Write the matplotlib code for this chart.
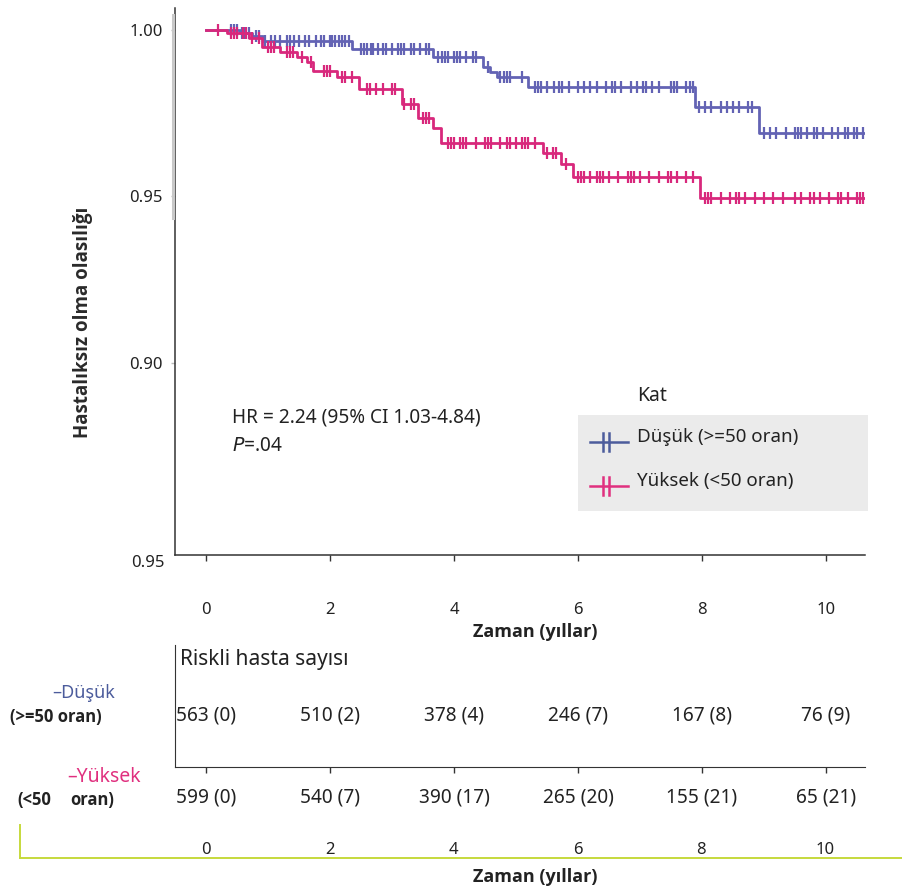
import numpy as np
import matplotlib
matplotlib.use("Agg")
import matplotlib.pyplot as plt
from matplotlib.lines import Line2D
from matplotlib.patches import Rectangle

plt.rcParams['font.family'] = ['Noto Sans', 'DejaVu Sans']
BOLD_FONT = ['Open Sans', 'Lato', 'DejaVu Sans']

# step times (years) and survival after each step
low_times = [0, 0.55, 0.75, 0.92, 2.35, 3.66, 4.47, 4.58, 4.69, 5.19, 7.89, 8.92]
low_surv = [1.0, 0.9990, 0.9982, 0.9967, 0.9943, 0.9919, 0.9889, 0.9874, 0.9859, 0.9829, 0.9769, 0.9692]

high_times = [0, 0.34, 0.70, 0.90, 1.20, 1.47, 1.63, 1.73, 2.11, 2.47, 3.16, 3.42, 3.66, 3.79,
              5.44, 5.73, 5.92, 7.97]
high_surv = [1.0, 0.9991, 0.9976, 0.9949, 0.9934, 0.9919, 0.9904, 0.9877, 0.9859, 0.9823,
             0.9778, 0.9737, 0.9707, 0.9662, 0.9629, 0.9596, 0.9557, 0.9494]

end_time = 10.63

low_censor = [0.4, 0.45, 0.5, 0.58, 0.62, 0.7, 0.8, 0.85, 0.95, 1.05, 1.12, 1.2, 1.3, 1.35, 1.42,
              1.5, 1.6, 1.66, 1.78, 1.85, 1.9, 2.0, 2.04, 2.08, 2.15, 2.2, 2.25, 2.3, 2.5, 2.55,
              2.6, 2.66, 2.7, 2.78, 2.85, 2.9, 3.0, 3.1, 3.15, 3.2, 3.3, 3.35, 3.45, 3.55, 3.6,
              3.75, 3.8, 3.85, 3.9, 4.0, 4.05, 4.1, 4.2, 4.3, 4.35, 4.55, 4.75, 4.8, 4.85, 4.9,
              5.1, 5.3, 5.35, 5.4, 5.5, 5.62, 5.7, 5.75, 5.85, 6.0, 6.1, 6.2, 6.3, 6.45, 6.55,
              6.6, 6.7, 6.85, 6.95, 7.05, 7.1, 7.2, 7.3, 7.5, 7.55, 7.6, 7.75, 7.8, 7.85, 7.95,
              8.05, 8.15, 8.3, 8.4, 8.5, 8.6, 8.75, 8.8, 9.0, 9.1, 9.2, 9.35, 9.5, 9.55, 9.6, 9.7,
              9.8, 9.85, 9.95, 10.1, 10.2, 10.3, 10.35, 10.45, 10.5, 10.6]
high_censor = [0.2, 0.4, 0.45, 0.5, 0.6, 0.65, 0.75, 0.85, 1.0, 1.05, 1.1, 1.3, 1.35, 1.4, 1.55,
               1.7, 1.9, 1.95, 2.0, 2.2, 2.25, 2.35, 2.6, 2.65, 2.75, 2.85, 3.0, 3.05, 3.2, 3.3,
               3.35, 3.5, 3.55, 3.6, 3.9, 3.95, 4.0, 4.1, 4.15, 4.2, 4.35, 4.5, 4.55, 4.6, 4.75,
               4.85, 4.9, 5.0, 5.1, 5.15, 5.2, 5.3, 5.5, 5.6, 5.65, 5.8, 6.0, 6.05, 6.1, 6.2,
               6.3, 6.35, 6.4, 6.5, 6.65, 6.8, 6.85, 6.9, 7.0, 7.15, 7.3, 7.45, 7.5, 7.6, 7.75,
               7.85, 8.05, 8.1, 8.15, 8.3, 8.45, 8.55, 8.6, 8.7, 8.85, 9.0, 9.15, 9.3, 9.5, 9.6,
               9.75, 9.8, 9.9, 10.05, 10.2, 10.25, 10.35, 10.5, 10.55, 10.6]

x_ticks = [0, 2, 4, 6, 8, 10]
y_ticks = [1.00, 0.95, 0.90]
low_risk = ["563 (0)", "510 (2)", "378 (4)", "246 (7)", "167 (8)", "76 (9)"]
high_risk = ["599 (0)", "540 (7)", "390 (17)", "265 (20)", "155 (21)", "65 (21)"]

BLUE = "#6363b4"
PINK = "#d8287c"
BLUE_LEG = "#4c5c9c"
PINK_LEG = "#e0307f"
TXT = "#222222"
W, H = 902, 893


def fx(px):
    return px / W


def fy(py):
    return 1 - py / H


def step_value(times, surv, t):
    idx = np.searchsorted(times, t, side="right") - 1
    return np.array(surv)[idx]


fig = plt.figure(figsize=(9.02, 8.93), dpi=100)

# main KM axes
ax = fig.add_axes([fx(175), fy(555), fx(865) - fx(175), fy(8) - fy(555)])
ax.set_xlim(-0.5, 10.63)
ax.set_ylim(0.8423, 1.0066)

for times, surv, cens, col in [(low_times, low_surv, low_censor, BLUE),
                               (high_times, high_surv, high_censor, PINK)]:
    xs = list(times) + [end_time]
    ys = list(surv) + [surv[-1]]
    ax.step(xs, ys, where="post", color=col, lw=2)
    cy = step_value(times, surv, np.array(cens))
    ax.plot(cens, cy, ls="none", marker="|", ms=8, mew=1.6, color=col)

for s in ["top", "right"]:
    ax.spines[s].set_visible(False)
ax.spines["left"].set_color("#333333")
ax.spines["bottom"].set_color("#333333")
ax.spines["left"].set_linewidth(1.1)
ax.spines["bottom"].set_linewidth(1.1)

ax.set_xticks(x_ticks)
ax.set_xticklabels([str(t) for t in x_ticks], fontsize=12, color=TXT)
ax.tick_params(axis="x", length=4, width=1, color="#333333", pad=30)
ax.set_yticks(y_ticks)
ax.set_yticklabels(["1.00", "0.95", "0.90"], fontsize=12, color=TXT)
ax.tick_params(axis="y", length=3, width=1, color="#bbbbbb", pad=6)

# grey band beside upper part of y axis
fig.add_artist(Line2D([fx(172.5), fx(172.5)], [fy(15), fy(218)], color="#c8c8c8", lw=2.2))

fig.text(fx(165), fy(563), "0.95", ha="right", va="center", fontsize=12, color=TXT)
fig.text(fx(535), fy(632), "Zaman (yıllar)", ha="center", va="center", fontsize=13,
         weight="bold", family=BOLD_FONT, color=TXT)
fig.text(fx(83), fy(322), "Hastalıksız olma olasılığı", rotation=90, ha="center",
         va="center", fontsize=13.5, weight="bold", family=BOLD_FONT, color="#2a2a2a")

# HR annotation
fig.text(fx(232), fy(417), "HR = 2.24 (95% CI 1.03-4.84)", ha="left", va="center",
         fontsize=13.7, color=TXT)
fig.text(fx(232), fy(446), r"$\it{P}$" + "=.04", ha="left", va="center", fontsize=13.7,
         color=TXT)

# legend
fig.add_artist(Rectangle((fx(578), fy(511)), fx(868) - fx(578), fy(415) - fy(511),
                         facecolor="#ebebeb", edgecolor="none"))
fig.text(fx(637), fy(396), "Kat", ha="left", va="center", fontsize=14, color=TXT)
for py, col, lab in [(439, BLUE_LEG, "Düşük (>=50 oran)"), (483, PINK_LEG, "Yüksek (<50 oran)")]:
    fig.add_artist(Line2D([fx(590), fx(628)], [fy(py + 3), fy(py + 3)], color=col, lw=1.8))
    for bx in [603, 609]:
        fig.add_artist(Line2D([fx(bx), fx(bx)], [fy(py - 6), fy(py + 12)], color=col, lw=1.8))
    fig.text(fx(637), fy(py - 2), lab, ha="left", va="center", fontsize=13.5, color=TXT)

# risk table
rax = fig.add_axes([fx(175), fy(767), fx(865) - fx(175), fy(645) - fy(767)])
rax.set_xlim(-0.5, 10.63)
rax.set_ylim(0, 1)
for s in ["top", "right"]:
    rax.spines[s].set_visible(False)
rax.spines["left"].set_color("#333333")
rax.spines["bottom"].set_color("#333333")
rax.set_yticks([])
rax.set_xticks(x_ticks)
rax.set_xticklabels([])
rax.tick_params(axis="x", length=4, width=1, color="#333333")
rax.patch.set_alpha(0)

fig.text(fx(180), fy(660), "Riskli hasta sayısı", ha="left", va="center", fontsize=15,
         color=TXT)
tr_low = matplotlib.transforms.blended_transform_factory(rax.transData, fig.transFigure)
for t, lab in zip(x_ticks, low_risk):
    fig.text(t, fy(715), lab, transform=tr_low, ha="center", va="center", fontsize=13.7,
             color=TXT)
for t, lab in zip(x_ticks, high_risk):
    fig.text(t, fy(797), lab, transform=tr_low, ha="center", va="center", fontsize=13.7,
             color=TXT)

fig.text(fx(115), fy(693), "–Düşük", ha="right", va="center", fontsize=13, color=BLUE_LEG)
fig.text(fx(10), fy(717), "(>=50 oran)", ha="left", va="center", fontsize=12,
         weight="bold", family=BOLD_FONT, color=TXT)
fig.text(fx(141), fy(777), "–Yüksek", ha="right", va="center", fontsize=14, color=PINK_LEG)
fig.text(fx(17), fy(800), "(<50", ha="left", va="center", fontsize=12, weight="bold",
         family=BOLD_FONT, color=TXT)
fig.text(fx(70), fy(800), "oran)", ha="left", va="center", fontsize=12, weight="bold",
         family=BOLD_FONT, color=TXT)

# bottom time axis
bax = fig.add_axes([fx(20), fy(858), fx(902) - fx(20), fy(825) - fy(858)])
bax.set_xlim((20 - 206) / 61.9, (902 - 206) / 61.9)
bax.set_ylim(0, 1)
for s in ["top", "right"]:
    bax.spines[s].set_visible(False)
bax.spines["left"].set_color("#c6d93c")
bax.spines["bottom"].set_color("#c6d93c")
bax.spines["left"].set_linewidth(1.4)
bax.spines["bottom"].set_linewidth(1.4)
bax.set_yticks([])
bax.set_xticks([])
bax.patch.set_alpha(0)
tr_b = matplotlib.transforms.blended_transform_factory(bax.transData, fig.transFigure)
for t in x_ticks:
    fig.text(t, fy(850), str(t), transform=tr_b, ha="center", va="center", fontsize=12,
             color=TXT)
fig.text(fx(535), fy(877), "Zaman (yıllar)", ha="center", va="center", fontsize=13,
         weight="bold", family=BOLD_FONT, color=TXT)

fig.savefig("out.png", dpi=100)
